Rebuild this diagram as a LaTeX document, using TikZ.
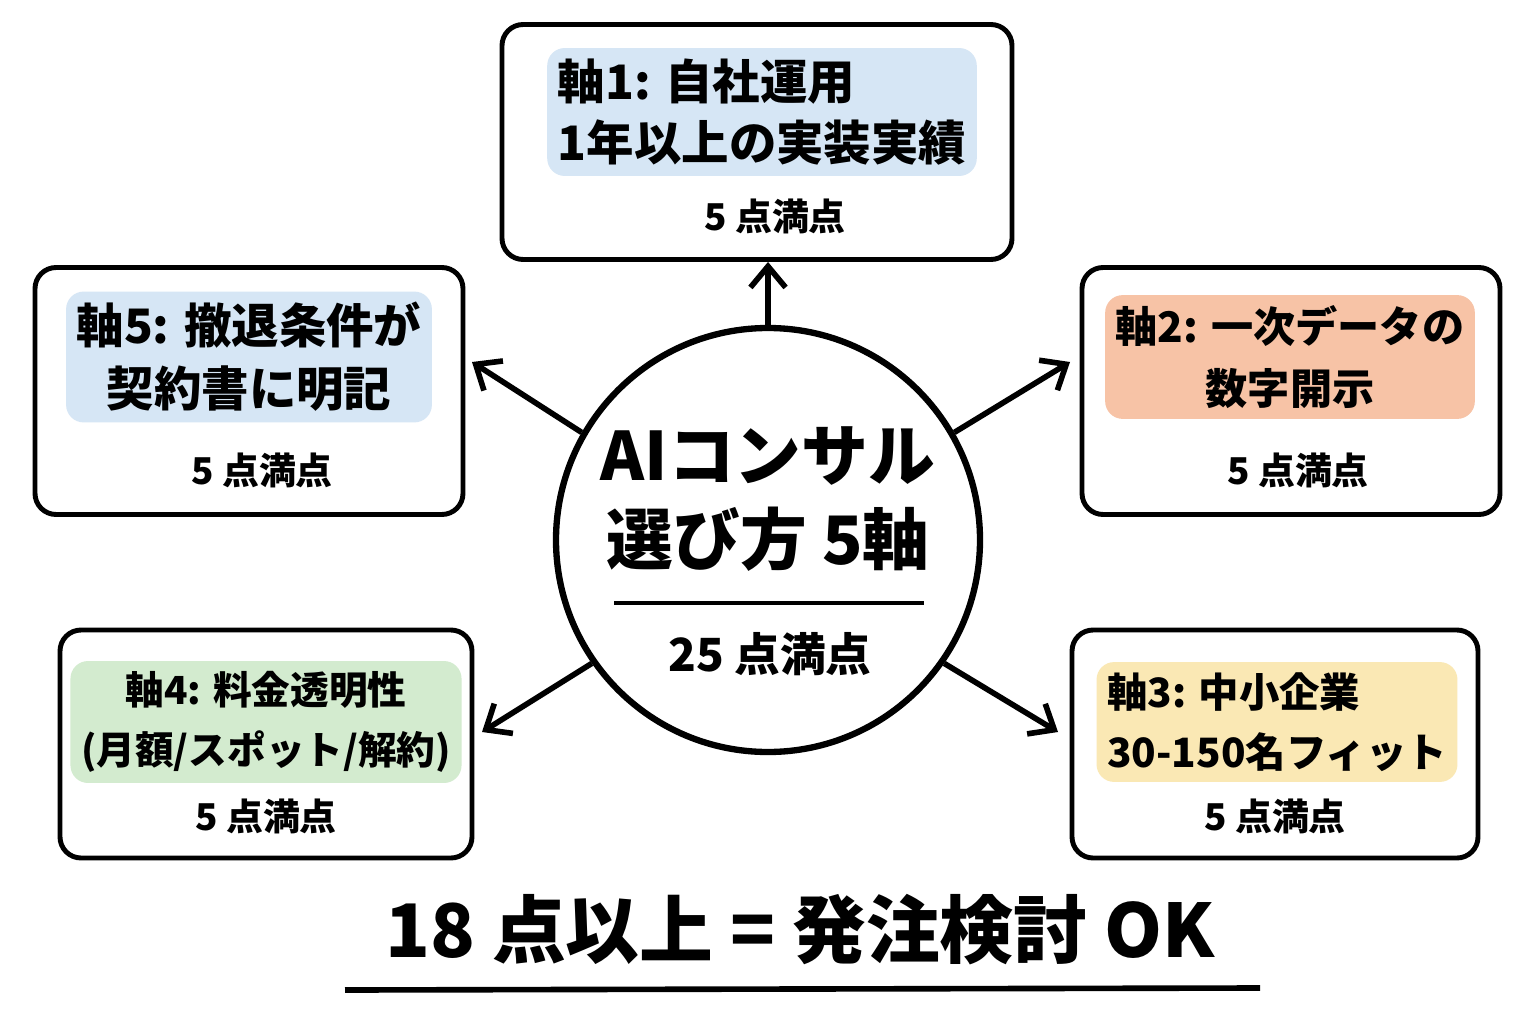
\documentclass[tikz,border=0pt]{standalone}
\usepackage{fontspec}
\setmainfont{Noto Sans CJK JP}
\usepackage{tikz}
\usetikzlibrary{calc,arrows.meta}
\definecolor{hlblue}{HTML}{D6E6F5}
\definecolor{hlorange}{HTML}{F7C3A6}
\definecolor{hlyellow}{HTML}{FAE8B4}
\definecolor{hlgreen}{HTML}{D3EBCF}
\begin{document}
\begin{tikzpicture}[line join=round]
    \tikzstyle{axis box}=[draw,line width=1.4pt,rounded corners=6pt,inner sep=0]
    \tikzstyle{axis title}=[inner sep=3pt,rounded corners=5pt,align=center,font=\fontsize{12.5}{17.5}\selectfont\bfseries]
    \tikzstyle{score}=[font=\fontsize{10.5}{12}\selectfont\bfseries]
    \tikzstyle{axis arrow}=[draw,line width=1.6pt,-{Straight Barb[length=6pt,width=10pt]}]

    \useasboundingbox (0,0) rectangle (15.36,10.24);
    \fill[white] (0,0) rectangle (15.36,10.24);

    % center
    \node(c)[circle,draw,line width=1.8pt,minimum size=4.24cm] at (7.68,4.84){};
    \node(ct)[align=center,font=\fontsize{19}{24}\selectfont\bfseries] at (7.68,5.25){AIコンサル\\選び方 5軸};
    \draw[line width=1.2pt] (6.14,4.21) -- (9.24,4.21);
    \node(cs)[font=\fontsize{13}{15}\selectfont\bfseries] at (7.7,3.7){25 点満点};

    % axis 1
    \node(b1)[axis box,minimum width=5.1cm,minimum height=2.35cm] at (7.57,8.82){};
    \node[axis title,fill=hlblue,align=left,font=\fontsize{13.5}{17.5}\selectfont\bfseries] at (7.62,9.12){軸1: 自社運用\\1年以上の実装実績};
    \node[score] at (7.75,8.08){5 点満点};

    % axis 2
    \node(b2)[axis box,minimum width=4.18cm,minimum height=2.47cm] at (12.91,6.33){};
    \node[axis title,fill=hlorange,font=\fontsize{12}{17.5}\selectfont\bfseries] at (12.9,6.67){軸2: 一次データの\\数字開示};
    \node[score] at (12.98,5.54){5 点満点};

    % axis 3
    \node(b3)[axis box,minimum width=4.06cm,minimum height=2.28cm] at (12.75,2.8){};
    \node[axis title,fill=hlyellow,align=left,font=\fontsize{11.5}{17}\selectfont\bfseries] at (12.77,3.02){軸3: 中小企業\\30-150名フィット};
    \node[score] at (12.75,2.08){5 点満点};

    % axis 4
    \node(b4)[axis box,minimum width=4.12cm,minimum height=2.28cm] at (2.66,2.8){};
    \node[axis title,fill=hlgreen,font=\fontsize{11}{17}\selectfont\bfseries] at (2.66,3.02){軸4: 料金透明性\\(月額/スポット/解約)};
    \node[score] at (2.66,2.08){5 点満点};

    % axis 5
    \node(b5)[axis box,minimum width=4.28cm,minimum height=2.47cm] at (2.49,6.33){};
    \node[axis title,fill=hlblue,font=\fontsize{13.5}{18}\selectfont\bfseries] at (2.49,6.67){軸5: 撤退条件が\\契約書に明記};
    \node[score] at (2.62,5.54){5 点満点};

    % arrow ends
    \coordinate(e2) at (10.7,6.62);
    \coordinate(e3) at (10.58,2.92);
    \coordinate(e4) at (4.82,2.92);
    \coordinate(e5) at (4.72,6.62);

    % arrows
    \draw[axis arrow] (c.north) -- (c.north |- b1.south);
    \draw[axis arrow] (c.30) -- (e2);
    \draw[axis arrow] (c.-35) -- (e3);
    \draw[axis arrow] (c.-145) -- (e4);
    \draw[axis arrow] (c.150) -- (e5);

    % bottom
    \node(res)[font=\fontsize{21}{25}\selectfont\bfseries] at (8.0,0.94){18 点以上 = 発注検討 OK};
    \draw[line width=1.6pt] (3.45,0.34) -- (12.6,0.36);
\end{tikzpicture}
\end{document}
